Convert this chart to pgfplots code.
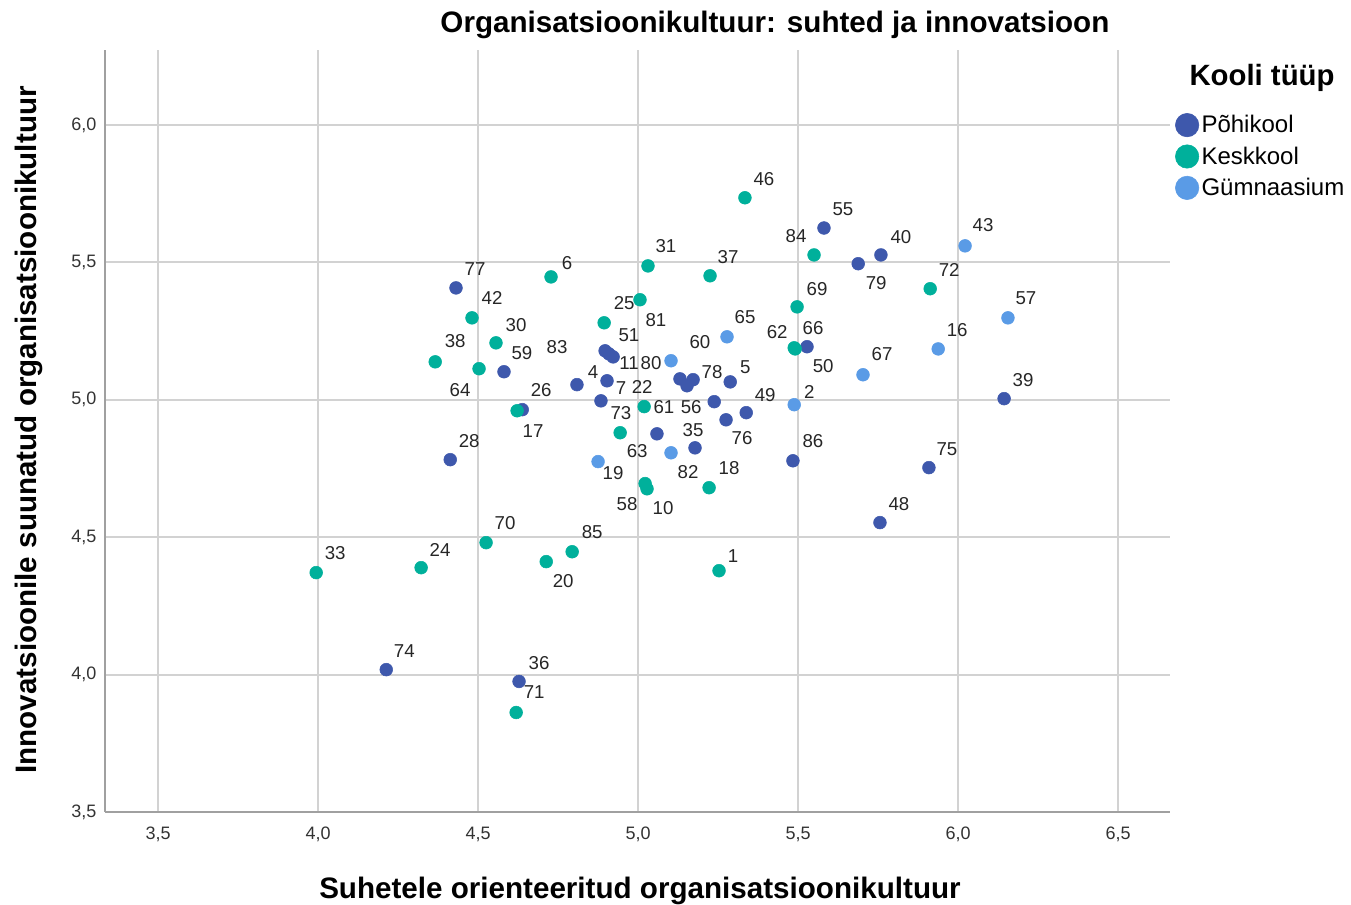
\documentclass[border=0pt]{standalone}
\usepackage{fontspec}
\setmainfont{Liberation Sans}
\usepackage{pgfplots}
\pgfplotsset{compat=1.18}

\definecolor{cP}{HTML}{3E58AC}
\definecolor{cK}{HTML}{00B09B}
\definecolor{cG}{HTML}{5A9BE6}
\definecolor{gridc}{HTML}{D2D2D2}
\definecolor{axc}{HTML}{A0A0A0}

\pgfplotsset{
  lblplot/.style={
    only marks, mark=*, mark size=4.8pt, forget plot,
    point meta=explicit symbolic,
    nodes near coords,
    visualization depends on={value \thisrow{dx}\as\dx},
    visualization depends on={value \thisrow{dy}\as\dy},
    every node near coord/.append style={anchor=center, text=black!85,
      font=\fontsize{14}{16}\selectfont, inner sep=0pt,
      xshift=\dx*0.75pt, yshift=\dy*0.75pt},
  },
}

\begin{document}
\begin{tikzpicture}
\path[use as bounding box] (-78.75pt,-69.75pt) rectangle (934.5pt,609pt);
\begin{axis}[
  at={(0pt,0pt)}, anchor=south west,
  scale only axis, width=798.75pt, height=571.5pt,
  xmin=3.334, xmax=6.6625, ymin=3.5, ymax=6.2727,
  xtick={3.5,4,...,6.5}, ytick={3.5,4,...,6},
  axis lines=left,
  axis line style={-, draw=axc, line width=1.8pt},
  major tick length=0pt,
  grid=major,
  major grid style={draw=gridc, line width=1.5pt},
  /pgf/number format/.cd, use comma, fixed, fixed zerofill, precision=1, assume math mode=true,
  /pgfplots/.cd,
  tick label style={font=\fontsize{13.5}{15}\selectfont, text=black!80},
  xticklabel style={yshift=-8pt},
  yticklabel style={xshift=-3pt},
  every axis title shift=0pt,
  title={Organisatsioonikultuur: suhted ja innovatsioon},
  title style={at={(0.629,1.0328)}, anchor=center, yshift=0pt, font=\bfseries\fontsize{22.2}{25}\selectfont},
  xlabel={Suhetele orienteeritud organisatsioonikultuur},
  xlabel style={at={(0.5023,-0.1036)}, anchor=center, font=\bfseries\fontsize{22.2}{25}\selectfont},
  ylabel={Innovatsioonile suunatud organisatsioonikultuur},
  ylabel style={at={(-0.0713,0.5013)}, anchor=center, rotate=0, font=\bfseries\fontsize{22.2}{25}\selectfont},
  clip=false,
  legend image code/.code={\draw[mark size=8.8pt] plot coordinates {(0cm,0cm)};},
  legend style={at={(1.0048,0.9180)}, anchor=north west, draw=none, fill=none,
    font=\fontsize{18}{20}\selectfont, row sep=5pt, inner sep=0pt},
  legend cell align=left,
]
\addplot[lblplot, color=cP] table[x=x,y=y,meta=lab]{
x y lab dx dy
5.581 5.625 55 19 19
5.759 5.527 40 20 18
5.688 5.495 79 18 -19
4.431 5.407 77 19 19
5.528 5.193 66 6 19
4.581 5.102 59 18 19
4.897 5.178 83 -48 4
4.909 5.167 51 20 19
4.922 5.156 11 16 -6
4.809 5.055 4 16 13
4.903 5.069 7 14 -7
4.884 4.996 73 20 -12
4.638 4.964 26 19 20
5.131 5.076 60 20 37
5.153 5.051 {} 0 0
5.172 5.073 78 19 8
5.288 5.065 5 15 15
5.238 4.993 56 -23 -5
5.059 4.876 61 7 27
5.338 4.953 49 19 18
5.275 4.927 76 16 -18
5.178 4.825 35 -2 18
5.484 4.778 86 20 20
6.144 5.004 39 19 19
5.909 4.753 75 18 18
5.756 4.553 48 19 19
4.413 4.782 28 19 19
4.213 4.018 74 18 19
4.628 3.975 36 20 18
};
\addplot[lblplot, color=cK] table[x=x,y=y,meta=lab]{
x y lab dx dy
5.334 5.735 46 19 19
5.031 5.487 31 18 20
5.225 5.451 37 18 19
4.728 5.447 6 16 14
5.550 5.527 84 -18 19
5.913 5.404 72 19 19
5.497 5.338 69 20 18
4.481 5.298 42 20 20
5.006 5.364 81 16 -20
4.894 5.280 25 20 20
4.556 5.207 30 20 18
4.366 5.138 38 20 21
4.503 5.113 64 -19 -21
4.622 4.960 17 16 -20
5.488 5.189 62 -17 16
5.491 5.185 50 28 -17
5.019 4.975 22 -2 20
4.944 4.880 63 17 -18
5.022 4.695 58 -18 -20
5.028 4.676 10 16 -19
5.222 4.680 18 20 20
4.525 4.480 70 19 20
4.794 4.447 85 20 20
4.713 4.411 20 17 -19
4.322 4.389 24 19 18
3.994 4.371 33 19 20
5.253 4.378 1 14 15
4.619 3.862 71 18 20
};
\addplot[lblplot, color=cG] table[x=x,y=y,meta=lab]{
x y lab dx dy
6.022 5.560 43 18 21
6.156 5.298 57 18 20
5.938 5.185 16 19 19
5.703 5.091 67 19 21
5.278 5.229 65 18 20
5.103 5.142 80 -20 -2
5.488 4.982 2 15 13
5.103 4.807 82 17 -19
4.875 4.775 19 15 -11
};
\addlegendimage{only marks, mark=*, color=cP}
\addlegendentry{Põhikool}
\addlegendimage{only marks, mark=*, color=cK}
\addlegendentry{Keskkool}
\addlegendimage{only marks, mark=*, color=cG}
\addlegendentry{Gümnaasium}
\node[font=\bfseries\fontsize{22}{25}\selectfont, anchor=center] at (rel axis cs:1.0864,0.9633) {Kooli tüüp};
\end{axis}
\end{tikzpicture}
\end{document}
